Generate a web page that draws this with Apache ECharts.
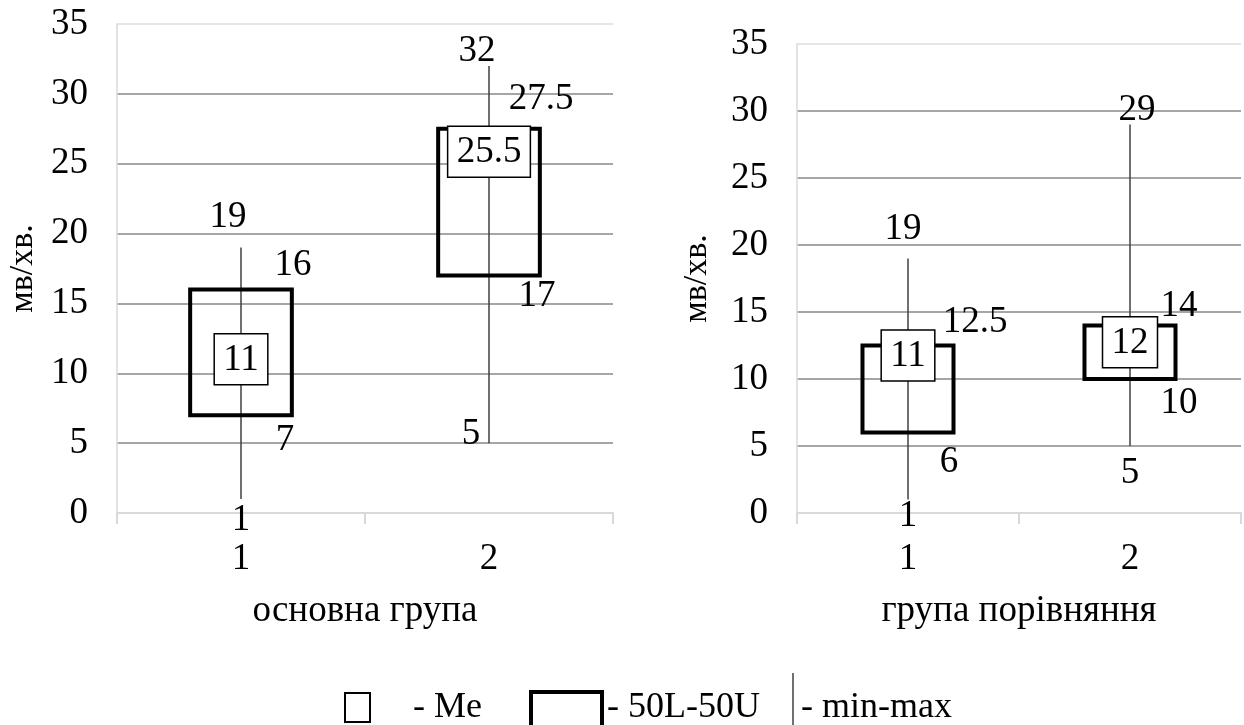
<!DOCTYPE html>
<html>
<head>
<meta charset="utf-8">
<script src="https://cdn.jsdelivr.net/npm/echarts@6/dist/echarts.min.js"></script>
<style>
html,body{margin:0;padding:0;background:#fff;}
#chart{width:1244px;height:725px;}
</style>
</head>
<body>
<div id="chart"></div>
<script>
// ---- data ----
const categories = ['1', '2'];
const yTicks = { min: 0, max: 35, step: 5 };
const mainMin = [1, 5];
const mainQ1 = [7, 17];
const mainMed = [11, 25.5];
const mainQ3 = [16, 27.5];
const mainMax = [19, 32];
const compMin = [1, 5];
const compQ1 = [6, 10];
const compMed = [11, 12];
const compQ3 = [12.5, 14];
const compMax = [19, 29];
const yName = 'мв/хв.';
const mainName = 'основна група';
const compName = 'група порівняння';
const legendTexts = ['- Me', '- 50L-50U', '- min-max'];

// ---- layout / style (label offsets relative to the value's coordinate) ----
const FONT = '"Liberation Serif","Times New Roman",serif';
const FS = 37;
const labelOffsets = {
  main: [
    { max: [-13, -30], q3: [52, -24], q1: [44, 25], min: [0, 21], med: 0 },
    { max: [-12, -15], q3: [52, -30], q1: [48, 21], min: [-18, -9], med: -5 }
  ],
  comp: [
    { max: [-5, -29], q3: [67, -23], q1: [41, 30], min: [0, 17], med: -10 },
    { max: [7, -14], q3: [49, -19], q1: [49, 24], min: [0, 27], med: -10 }
  ]
};

const measureCtx = document.createElement('canvas').getContext('2d');
measureCtx.font = FS + 'px ' + FONT;
function tw(s) { return measureCtx.measureText(s).width; }

function buildData(mn, q1, md, q3, mx) {
  return categories.map((c, i) => [i, mn[i], q1[i], md[i], q3[i], mx[i]]);
}

function makeRender(key) {
  return function (params, api) {
    const i = api.value(0);
    const mn = api.value(1), q1 = api.value(2), md = api.value(3), q3 = api.value(4), mx = api.value(5);
    const pMin = api.coord([i, mn]);
    const pMax = api.coord([i, mx]);
    const pQ1 = api.coord([i, q1]);
    const pQ3 = api.coord([i, q3]);
    const pMd = api.coord([i, md]);
    const cx = pMin[0];
    const bw = api.size([1, 0])[0] * 0.41;
    const off = labelOffsets[key][i];
    const medTxt = String(md);
    const mw = tw(medTxt) + 18;
    const mh = 51;
    const my = pMd[1] + off.med;
    const txt = (s, p, o) => ({
      type: 'text',
      style: {
        text: s, x: cx + o[0], y: p[1] + o[1],
        align: 'center', verticalAlign: 'middle',
        font: FS + 'px ' + FONT, fill: '#000'
      }
    });
    return {
      type: 'group',
      children: [
        { type: 'line', shape: { x1: cx, y1: pMin[1], x2: cx, y2: pMax[1] },
          style: { stroke: '#404040', lineWidth: 1.5 } },
        { type: 'rect', shape: { x: cx - bw / 2, y: pQ3[1], width: bw, height: pQ1[1] - pQ3[1] },
          style: { fill: 'none', stroke: '#000', lineWidth: 4 } },
        { type: 'rect', shape: { x: cx - mw / 2, y: my - mh / 2, width: mw, height: mh },
          style: { fill: '#fff', stroke: '#000', lineWidth: 1.5 } },
        { type: 'text', style: { text: medTxt, x: cx, y: my + 1, align: 'center', verticalAlign: 'middle',
          font: FS + 'px ' + FONT, fill: '#000' } },
        txt(String(mx), pMax, off.max),
        txt(String(q3), pQ3, off.q3),
        txt(String(q1), pQ1, off.q1),
        txt(String(mn), pMin, off.min)
      ]
    };
  };
}

const gridLineColors = ['#d9d9d9', '#a6a6a6', '#a6a6a6', '#a6a6a6', '#a6a6a6', '#a6a6a6', '#a6a6a6', '#e6e6e6'];

function xAxisFor(gi, name) {
  return {
    type: 'category', gridIndex: gi, data: categories, boundaryGap: true,
    axisLine: { lineStyle: { color: '#d9d9d9', width: 2 } },
    axisTick: { show: true, length: 11, lineStyle: { color: '#d9d9d9', width: 2 } },
    axisLabel: { color: '#000', fontSize: FS, fontFamily: FONT, margin: 28 },
    splitLine: { show: false },
    name: name, nameLocation: 'middle', nameGap: 80,
    nameTextStyle: { color: '#000', fontSize: FS, fontFamily: FONT }
  };
}
function yAxisFor(gi, gap) {
  return {
    type: 'value', gridIndex: gi, min: yTicks.min, max: yTicks.max, interval: yTicks.step,
    axisLine: { show: true, lineStyle: { color: '#d9d9d9', width: 1.5 } },
    axisTick: { show: false },
    axisLabel: { color: '#000', fontSize: FS, fontFamily: FONT, margin: 29 },
    splitLine: { show: true, lineStyle: { color: gridLineColors, width: 2 } },
    name: yName, nameLocation: 'middle', nameRotate: 90, nameGap: gap,
    nameTextStyle: { color: '#000', fontSize: 34, fontFamily: FONT }
  };
}

const chart = echarts.init(document.getElementById('chart'), null, { renderer: 'canvas' });
chart.setOption({
  animation: false,
  backgroundColor: '#fff',
  grid: [
    { left: 117, right: 1244 - 613, top: 24, bottom: 725 - 513 },
    { left: 797, right: 3, top: 44, bottom: 725 - 513 }
  ],
  xAxis: [xAxisFor(0, mainName), xAxisFor(1, compName)],
  yAxis: [yAxisFor(0, 77), yAxisFor(1, 83)],
  series: [
    { type: 'custom', xAxisIndex: 0, yAxisIndex: 0, clip: false,
      renderItem: makeRender('main'), encode: { x: 0, y: [1, 2, 3, 4, 5] },
      data: buildData(mainMin, mainQ1, mainMed, mainQ3, mainMax) },
    { type: 'custom', xAxisIndex: 1, yAxisIndex: 1, clip: false,
      renderItem: makeRender('comp'), encode: { x: 0, y: [1, 2, 3, 4, 5] },
      data: buildData(compMin, compQ1, compMed, compQ3, compMax) }
  ],
  graphic: [
    { type: 'rect', shape: { x: 345, y: 693, width: 25, height: 29 },
      style: { fill: '#fff', stroke: '#000', lineWidth: 2 } },
    { type: 'text', style: { text: legendTexts[0], x: 413, y: 708, verticalAlign: 'middle',
      font: '36px ' + FONT, fill: '#000' } },
    { type: 'rect', shape: { x: 531, y: 692, width: 71, height: 45 },
      style: { fill: '#fff', stroke: '#000', lineWidth: 4 } },
    { type: 'text', style: { text: legendTexts[1], x: 607, y: 708, verticalAlign: 'middle',
      font: '36px ' + FONT, fill: '#000' } },
    { type: 'line', shape: { x1: 793, y1: 673, x2: 793, y2: 730 },
      style: { stroke: '#404040', lineWidth: 1.5 } },
    { type: 'text', style: { text: legendTexts[2], x: 801, y: 708, verticalAlign: 'middle',
      font: '36px ' + FONT, fill: '#000' } }
  ]
});
</script>
</body>
</html>
